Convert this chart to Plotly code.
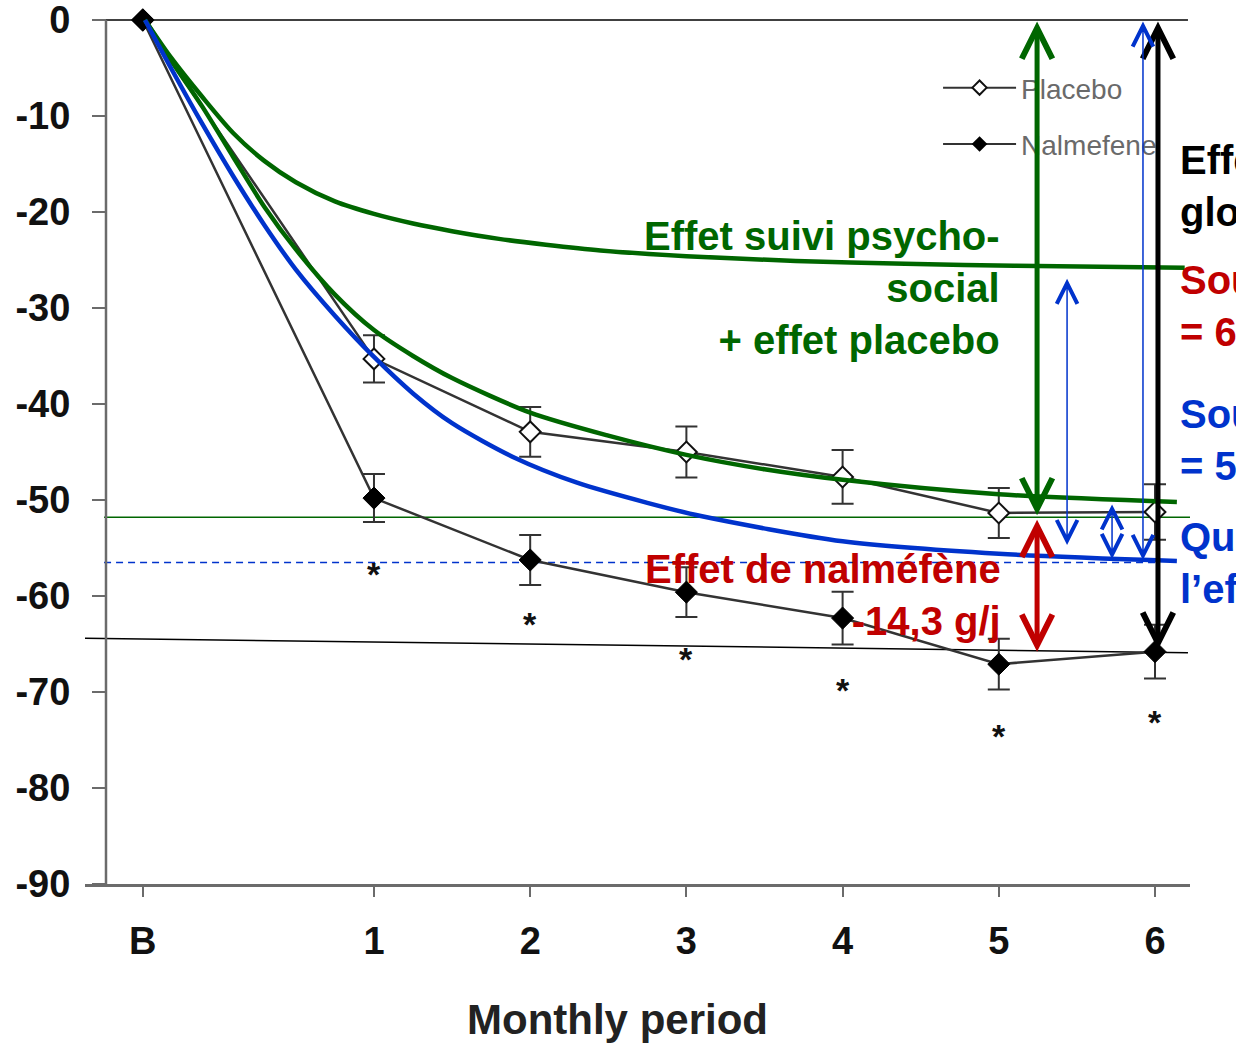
import plotly.graph_objects as go

FONT = "Liberation Sans, Arial, Helvetica, sans-serif"
GREEN = "#006600"
BLUE = "#0033cc"
RED = "#c00000"
AXC = "#6b6b6b"
DATAC = "#333333"

# ---------------- data ----------------
periods = ["B", "1", "2", "3", "4", "5", "6"]
period_x = [-0.48, 1, 2, 3, 4, 5, 6]
placebo = [0, -35.3, -42.9, -45.0, -47.6, -51.35, -51.25]
placebo_err = [0, 2.45, 2.6, 2.65, 2.8, 2.6, 2.9]
nalmefene = [0, -49.8, -56.25, -59.6, -62.3, -67.1, -65.8]
nalmefene_err = [0, 2.5, 2.6, 2.6, 2.75, 2.65, 2.8]
star_x = [1, 2, 3, 4, 5, 6]
star_y = [-57.5, -62.7, -66.35, -69.6, -74.4, -72.9]

# hand-drawn effect curves
psy_x = [-0.466, -0.3, -0.1, 0.1, 0.3, 0.5, 0.75, 1.0, 1.25, 1.5, 1.8, 2.1, 2.45, 3.0, 3.7, 4.4, 5.1, 6.19]
psy_y = [0, -3.9, -8.0, -11.8, -14.7, -16.9, -18.9, -20.2, -21.2, -22.0, -22.8, -23.4, -24.0, -24.6, -25.1, -25.4, -25.6, -25.8]
plc_x = [-0.466, -0.3, -0.1, 0.1, 0.3, 0.5, 0.75, 1.0, 1.25, 1.5, 2.0, 2.5, 3.0, 3.5, 4.0, 5.0, 6.14]
plc_y = [0, -4.2, -9.0, -14.3, -19.5, -23.9, -28.6, -32.3, -35.0, -37.3, -40.9, -43.3, -45.3, -46.8, -47.9, -49.4, -50.2]
nal_x = [-0.466, -0.3, -0.1, 0.1, 0.3, 0.5, 0.75, 1.0, 1.25, 1.5, 1.9, 2.3, 2.75, 3.1, 4.0, 5.0, 6.14]
nal_y = [0, -5.0, -10.8, -16.3, -21.4, -26.0, -30.8, -35.1, -38.9, -42.0, -45.6, -48.2, -50.3, -51.7, -54.3, -55.6, -56.35]

# reference lines
top_x, top_y = [-0.754, 6.211], [0, 0]
green_ref_x, green_ref_y = [-0.728, 6.30], [-51.8, -51.8]
blue_ref_x, blue_ref_y = [-0.728, 6.0], [-56.5, -56.5]
black_ref_x, black_ref_y = [-0.850, 6.211], [-64.4, -65.9]

y_ticks = [0, -10, -20, -30, -40, -50, -60, -70, -80, -90]
y_ticktext = ["0", "-10", "-20", "-30", "-40", "-50", "-60", "-70", "-80", "-90"]

fig = go.Figure()

# reference lines
fig.add_trace(go.Scatter(x=top_x, y=top_y, mode="lines", line=dict(color="black", width=1.5), showlegend=False, hoverinfo="skip"))
fig.add_trace(go.Scatter(x=green_ref_x, y=green_ref_y, mode="lines", line=dict(color=GREEN, width=1.5), showlegend=False, hoverinfo="skip"))
fig.add_trace(go.Scatter(x=blue_ref_x, y=blue_ref_y, mode="lines", line=dict(color=BLUE, width=1.5, dash="7px,5px"), showlegend=False, hoverinfo="skip"))
fig.add_trace(go.Scatter(x=black_ref_x, y=black_ref_y, mode="lines", line=dict(color="black", width=1.5), showlegend=False, hoverinfo="skip"))

# data series
fig.add_trace(go.Scatter(
    x=period_x, y=placebo, mode="lines+markers", name="Placebo", showlegend=False,
    line=dict(color=DATAC, width=2.5),
    marker=dict(symbol="diamond", size=16, color="white", line=dict(color="#111", width=2)),
    error_y=dict(type="data", array=placebo_err, color=DATAC, thickness=2, width=11),
    cliponaxis=False))
fig.add_trace(go.Scatter(
    x=period_x, y=nalmefene, mode="lines+markers", name="Nalmefene", showlegend=False,
    line=dict(color=DATAC, width=2.5),
    marker=dict(symbol="diamond", size=17, color="black", line=dict(color="black", width=1)),
    error_y=dict(type="data", array=nalmefene_err, color=DATAC, thickness=2, width=11),
    cliponaxis=False))

# effect curves
for cx, cy, col in [(psy_x, psy_y, GREEN), (plc_x, plc_y, GREEN), (nal_x, nal_y, BLUE)]:
    fig.add_trace(go.Scatter(x=cx, y=cy, mode="lines",
                             line=dict(color=col, width=4.5, shape="spline", smoothing=0.8),
                             showlegend=False, hoverinfo="skip"))

# legend entries
fig.add_trace(go.Scatter(x=[None], y=[None], mode="lines+markers", name="Placebo", legendgroup="p",
                         line=dict(color=DATAC, width=2),
                         marker=dict(symbol="diamond", size=11, color="white", line=dict(color="#111", width=2))))
fig.add_trace(go.Scatter(x=[None], y=[None], mode="lines+markers", name="Nalmefene", legendgroup="n",
                         line=dict(color=DATAC, width=2),
                         marker=dict(symbol="diamond", size=12, color="black")))

# significance stars
for sx, sy in zip(star_x, star_y):
    fig.add_annotation(x=sx, y=sy, text="*", showarrow=False, yshift=-2,
                       font=dict(family=FONT, size=34, color="#111", weight="bold"))

# arrows
def arrow(x, y0, y1, color, width, size):
    fig.add_annotation(x=x, y=y1, ax=x, ay=y0, axref="x", ayref="y", xref="x", yref="y",
                       text="", showarrow=True, arrowside="end+start",
                       arrowhead=5, startarrowhead=5, arrowsize=size, startarrowsize=size,
                       arrowwidth=width, arrowcolor=color, standoff=0, startstandoff=0)

arrow(5.245, 0, -51.6, GREEN, 5, 1.2)
arrow(5.245, -51.9, -65.8, RED, 5, 1.2)
arrow(6.019, 0, -65.6, "black", 5, 1.2)
arrow(5.923, 0, -56.25, BLUE, 1.5, 2.7)
arrow(5.437, -26.8, -54.7, BLUE, 1.5, 2.7)
arrow(5.725, -50.3, -56.15, BLUE, 1.5, 2.7)

# texts
def label(x, y, text, color, anchor, align):
    fig.add_annotation(x=x, y=y, text=text, showarrow=False, xanchor=anchor, yanchor="middle", align=align,
                       font=dict(family=FONT, size=40, color=color, weight="bold"))

label(5.020, -27.9, "Effet suivi psycho-<br>social<br>+ effet placebo", GREEN, "right", "right")
label(5.027, -59.9, "Effet de nalméfène<br>-14,3 g/j", RED, "right", "right")
label(6.147, -17.3, "Effet<br>global", "black", "left", "left")
label(6.147, -29.8, "Sous nalméfène<br>= 65,6 g/j", RED, "left", "left")
label(6.147, -43.75, "Sous placebo<br>= 51,3 g/j", BLUE, "left", "left")
label(6.147, -56.6, "Quelle part de<br>l’effet placebo ?", BLUE, "left", "left")

fig.add_annotation(x=0.482, y=-0.1538, xref="paper", yref="paper", text="Monthly period", showarrow=False,
                   xanchor="center", yanchor="middle",
                   font=dict(family=FONT, size=42, color="#222", weight="bold"))

# y axis line (from 0 to -90)
YPOS = 0.019
fig.add_shape(type="line", xref="paper", yref="y", x0=YPOS, x1=YPOS, y0=0, y1=-90,
              line=dict(color=AXC, width=2.5))

fig.update_layout(
    width=1236, height=1044,
    margin=dict(l=85, r=46, t=0, b=160, autoexpand=False),
    plot_bgcolor="white", paper_bgcolor="white",
    showlegend=True,
    legend=dict(x=0.772, y=0.9288, xanchor="left", yanchor="top", bgcolor="rgba(0,0,0,0)",
                font=dict(family=FONT, size=28, color="#6a6a6a"), itemwidth=73,
                traceorder="grouped", tracegroupgap=17),
    xaxis=dict(range=[-0.850, 6.224], showline=True, linecolor=AXC, linewidth=2.5,
               ticks="outside", ticklen=10, tickwidth=2, tickcolor=AXC,
               tickvals=period_x, ticktext=periods, showgrid=False, zeroline=False,
               ticklabelstandoff=12,
               tickfont=dict(family=FONT, size=38, color="#111", weight="bold")),
    yaxis=dict(range=[-90, 2.083], anchor="free", position=YPOS, showline=False,
               ticks="outside", ticklen=14, tickwidth=2, tickcolor=AXC,
               tickvals=y_ticks, ticktext=y_ticktext, showgrid=False, zeroline=False,
               ticklabelstandoff=14, ticklabeloverflow="allow",
               tickfont=dict(family=FONT, size=38, color="#111", weight="bold")),
)

fig.write_html("out.html")
